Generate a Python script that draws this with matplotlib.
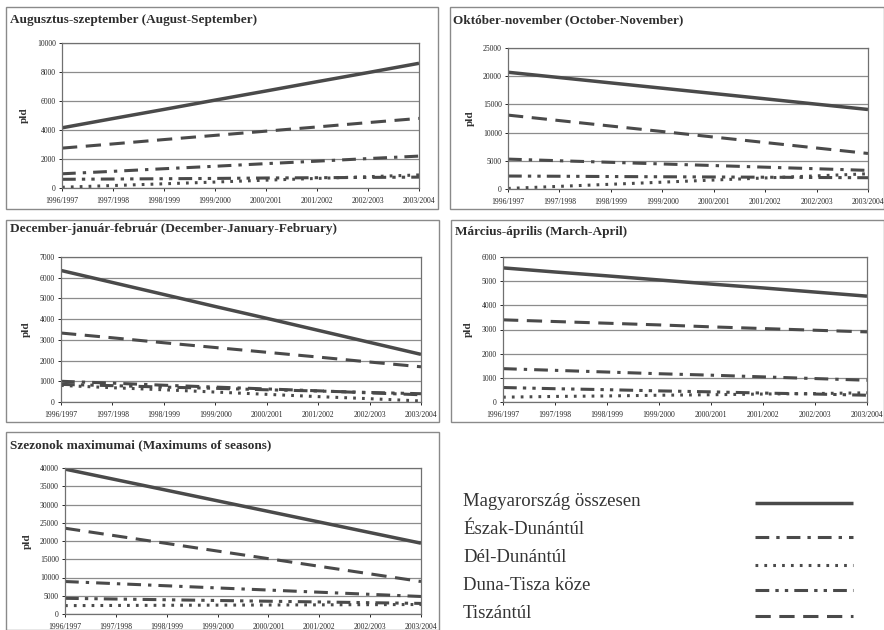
import matplotlib
matplotlib.use("Agg")
import matplotlib.pyplot as plt
from matplotlib.lines import Line2D
from matplotlib.patches import Rectangle

plt.rcParams['font.family'] = ['Liberation Serif', 'DejaVu Serif']

# ---- data ---------------------------------------------------------------
seasons = ["1996/1997", "1997/1998", "1998/1999", "1999/2000",
           "2000/2001", "2001/2002", "2002/2003", "2003/2004"]

regions = ["Magyarország összesen", "Észak-Dunántúl", "Dél-Dunántúl",
           "Duna-Tisza köze", "Tiszántúl"]

titles = ["Augusztus-szeptember (August-September)",
          "Október-november (October-November)",
          "December-január-február (December-January-February)",
          "Március-április (March-April)",
          "Szezonok maximumai (Maximums of seasons)"]

y_label = "pld"

# Aug-Sep
aug_osszesen = [4150, 4790, 5420, 6060, 6690, 7330, 7960, 8600]
aug_eszak = [980, 1150, 1330, 1500, 1680, 1850, 2030, 2200]
aug_del = [50, 170, 290, 410, 540, 660, 780, 900]
aug_dunatisza = [600, 620, 640, 660, 690, 710, 730, 750]
aug_tiszantul = [2750, 3040, 3340, 3630, 3920, 4210, 4510, 4800]

# Oct-Nov
okt_osszesen = [20700, 19760, 18810, 17870, 16930, 15990, 15040, 14100]
okt_eszak = [5300, 5010, 4730, 4440, 4160, 3870, 3590, 3300]
okt_del = [100, 470, 840, 1210, 1590, 1960, 2330, 2700]
okt_dunatisza = [2300, 2260, 2210, 2170, 2130, 2090, 2040, 2000]
okt_tiszantul = [13100, 12130, 11160, 10190, 9210, 8240, 7270, 6300]

# Dec-Jan-Feb
dec_osszesen = [6350, 5770, 5190, 4610, 4040, 3460, 2880, 2300]
dec_eszak = [1000, 910, 810, 720, 630, 540, 440, 350]
dec_del = [800, 690, 590, 480, 370, 260, 160, 50]
dec_dunatisza = [850, 790, 720, 660, 590, 530, 460, 400]
dec_tiszantul = [3330, 3100, 2860, 2630, 2400, 2170, 1930, 1700]

# Mar-Apr
mar_osszesen = [5550, 5380, 5220, 5050, 4880, 4720, 4550, 4380]
mar_eszak = [1380, 1310, 1240, 1170, 1110, 1040, 970, 900]
mar_del = [200, 230, 250, 280, 300, 330, 350, 380]
mar_dunatisza = [600, 550, 510, 460, 420, 370, 330, 280]
mar_tiszantul = [3400, 3330, 3260, 3190, 3110, 3040, 2970, 2900]

# Season maxima
max_osszesen = [39700, 36800, 33900, 31000, 28100, 25200, 22300, 19400]
max_eszak = [8900, 8310, 7730, 7140, 6560, 5970, 5390, 4800]
max_del = [2300, 2340, 2390, 2430, 2470, 2510, 2560, 2600]
max_dunatisza = [4300, 4100, 3900, 3700, 3500, 3300, 3100, 2900]
max_tiszantul = [23500, 21410, 19330, 17240, 15160, 13070, 10990, 8900]

y_max = [10000, 25000, 7000, 6000, 40000]
y_step = [2000, 5000, 1000, 1000, 5000]

panels = [
    [aug_osszesen, aug_eszak, aug_del, aug_dunatisza, aug_tiszantul],
    [okt_osszesen, okt_eszak, okt_del, okt_dunatisza, okt_tiszantul],
    [dec_osszesen, dec_eszak, dec_del, dec_dunatisza, dec_tiszantul],
    [mar_osszesen, mar_eszak, mar_del, mar_dunatisza, mar_tiszantul],
    [max_osszesen, max_eszak, max_del, max_dunatisza, max_tiszantul],
]

# ---- styles ---------------------------------------------------------------
LINE_COLOR = "#4a4a4a"
GRID_COLOR = "#8c8c8c"
styles = [
    dict(linestyle="-", linewidth=2.5),
    dict(linestyle=(0, (4.5, 2.3, 1.1, 2.3)), linewidth=2.2),
    dict(linestyle=(0, (0.9, 2.0)), linewidth=2.2),
    dict(linestyle=(0, (4.5, 2.0, 1.1, 2.0, 1.1, 2.0)), linewidth=2.2),
    dict(linestyle=(0, (5.0, 2.8)), linewidth=2.2),
]

W, H = 884, 630
fig = plt.figure(figsize=(W / 100, H / 100), dpi=100)
fig.patch.set_facecolor("white")


def px_axes(x0, y0, x1, y1):
    return fig.add_axes([x0 / W, 1 - y1 / H, (x1 - x0) / W, (y1 - y0) / H])


# plot areas (pixel boxes)
plot_boxes = [(62, 43, 419, 188), (508, 48, 868, 189),
              (61, 257, 421, 402), (503, 257, 867, 402),
              (65, 468, 421, 614)]
frame_boxes = [(6, 7, 438, 209), (450, 7, 884, 209),
               (6, 220, 439, 422), (451, 220, 884, 422),
               (6, 432, 439, 630)]
title_pos = [(10, 20), (453, 20), (10, 229), (455, 232), (10, 445)]

x = list(range(len(seasons)))

for i, series in enumerate(panels):
    ax = px_axes(*plot_boxes[i])
    for vals, st in zip(series, styles):
        ax.plot(x, vals, color=LINE_COLOR, solid_capstyle="butt",
                dash_capstyle="butt", **st)
    ax.set_xlim(0, len(seasons) - 1)
    ax.set_ylim(0, y_max[i])
    ax.set_yticks(range(0, y_max[i] + 1, y_step[i]))
    ax.set_xticks(x)
    ax.set_xticklabels(seasons)
    ax.tick_params(axis="both", labelsize=5.5, length=2.5, width=0.7,
                   colors="#262626", pad=2)
    ax.tick_params(axis="x", pad=4)
    ax.grid(axis="y", color=GRID_COLOR, linewidth=0.9)
    ax.set_axisbelow(True)
    for s in ax.spines.values():
        s.set_color("#707070")
        s.set_linewidth(0.9)
    ax.set_ylabel(y_label, fontsize=8, fontweight="bold", color="#333333",
                  labelpad=6)

# overlay for frames, titles and legend
ov = fig.add_axes([0, 0, 1, 1], zorder=-1)
ov.set_xlim(0, W)
ov.set_ylim(H, 0)
ov.axis("off")

for (x0, y0, x1, y1) in frame_boxes:
    ov.add_patch(Rectangle((x0, y0), x1 - x0, y1 - y0, fill=False,
                           edgecolor="#8a8a8a", linewidth=1.0))
for (tx, ty), t in zip(title_pos, titles):
    ov.text(tx, ty, t, fontsize=9.5, fontweight="bold", color="#2e2e2e",
            ha="left", va="center")

# legend
leg_text_y = [502, 530, 557, 585, 613]
leg_line_y = [503, 537, 565, 590, 616]
for lbl, st, ty, ly in zip(regions, styles, leg_text_y, leg_line_y):
    ov.text(463, ty, lbl, fontsize=13.5, color="#333333", ha="left",
            va="center")
    ov.add_line(Line2D([755, 853], [ly, ly], color=LINE_COLOR,
                       dash_capstyle="butt", solid_capstyle="butt", **st))

fig.savefig("out.png", dpi=100, facecolor="white")
